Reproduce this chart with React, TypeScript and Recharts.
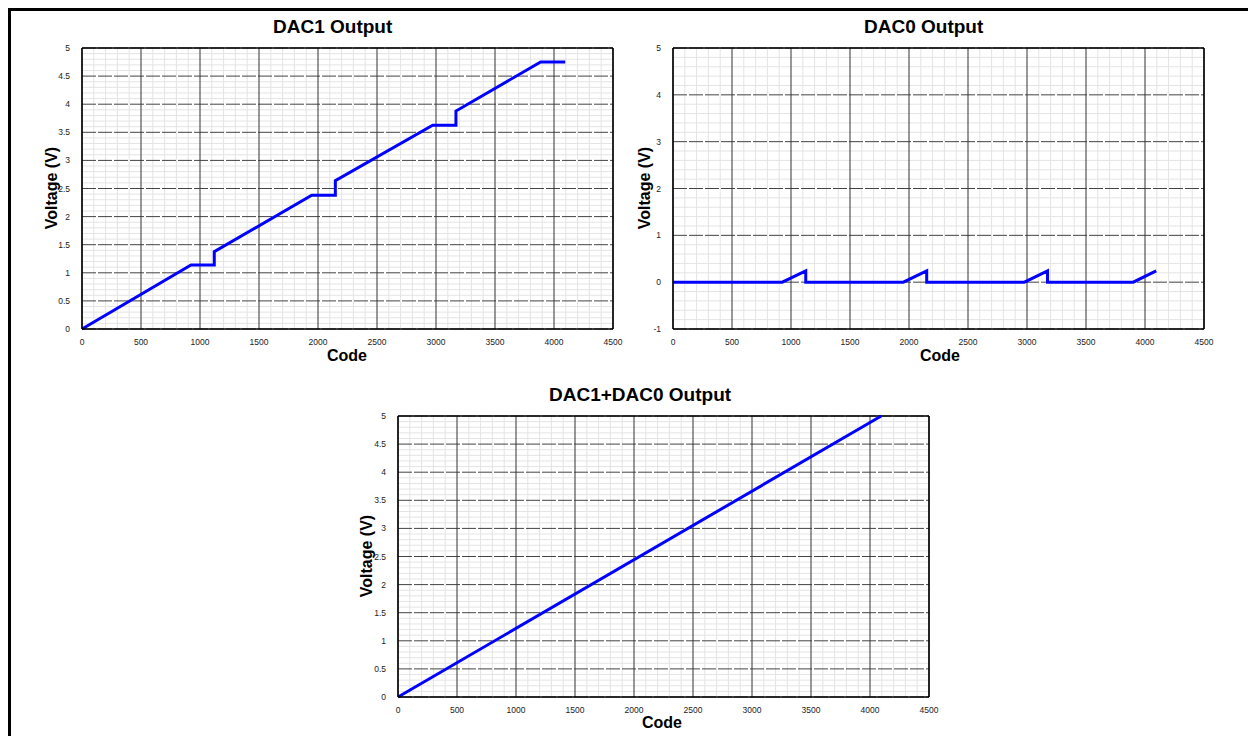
import { LineChart, Line, XAxis, YAxis, CartesianGrid, ReferenceLine } from 'recharts';

// ---- data ----
const codeTicks = [0, 500, 1000, 1500, 2000, 2500, 3000, 3500, 4000, 4500];
const halfVoltTicks = [0, 0.5, 1, 1.5, 2, 2.5, 3, 3.5, 4, 4.5, 5];
const dac0VoltTicks = [-1, 0, 1, 2, 3, 4, 5];

const dac1Codes = [0, 924, 1121, 1121, 1947, 2147, 2147, 2972, 3169, 3169, 3887, 4095];
const dac1Volts = [0, 1.139, 1.139, 1.375, 2.379, 2.379, 2.639, 3.625, 3.625, 3.879, 4.751, 4.751];

const dac0Codes = [0, 926, 1125, 1125, 1952, 2150, 2150, 2978, 3174, 3174, 3900, 4095];
const dac0Volts = [0, 0, 0.243, 0, 0, 0.243, 0, 0, 0.243, 0, 0, 0.243];

const sumCodes = [0, 4095];
const sumVolts = [0, 5.0];

const FONT = 'Arial, "Liberation Sans", Helvetica, sans-serif';
const BLUE = '#0000ff';

const toPoints = (codes: number[], volts: number[]) =>
  codes.map((code, i) => ({ code, v: volts[i] }));

// minor grid positions (styling only)
const steps = (from: number, to: number, step: number, skip: number) => {
  const out: number[] = [];
  for (let i = 0; from + i * step <= to + 1e-9; i++) {
    const val = +(from + i * step).toFixed(4);
    if (Math.abs(val / skip - Math.round(val / skip)) > 1e-6) out.push(val);
  }
  return out;
};

interface PanelProps {
  left: number;
  top: number;
  width: number;
  data: { code: number; v: number }[];
  yTicks: number[];
  yDomain: [number, number];
  minorY: number[];
}

function Panel({ left, top, width, data, yTicks, yDomain, minorY }: PanelProps) {
  const minorX = steps(0, 4500, 100, 500);
  return (
    <div style={{ position: 'absolute', left, top }}>
      <LineChart
        width={width}
        height={369}
        data={data}
        margin={{ top: 48, right: width - 82 - 531, left: 0, bottom: 0 }}
      >
        <CartesianGrid
          stroke="#e4e4e4"
          strokeWidth={1}
          horizontalValues={minorY}
          verticalValues={minorX}
        />
        <CartesianGrid
          stroke="#444"
          strokeWidth={1}
          vertical={false}
          strokeDasharray="14 2"
          horizontalValues={yTicks}
        />
        <CartesianGrid stroke="#333" strokeWidth={1} horizontal={false} verticalValues={codeTicks} />
        <XAxis
          type="number"
          dataKey="code"
          domain={[0, 4500]}
          ticks={codeTicks}
          interval={0}
          height={40}
          tickLine={false}
          tickMargin={4}
          axisLine={{ stroke: '#000', strokeWidth: 1.5 }}
          tick={{ fontSize: 8.5, fill: '#222', fontFamily: FONT }}
        />
        <YAxis
          type="number"
          domain={yDomain}
          ticks={yTicks}
          interval={0}
          width={82}
          tickLine={false}
          tickMargin={6}
          axisLine={{ stroke: '#000', strokeWidth: 1.5 }}
          tick={{ fontSize: 8.5, fill: '#222', fontFamily: FONT }}
        />
        <ReferenceLine y={yDomain[1]} stroke="#000" strokeWidth={1.5} />
        <ReferenceLine x={4500} stroke="#000" strokeWidth={1.5} />
        <Line
          type="linear"
          dataKey="v"
          stroke={BLUE}
          strokeWidth={3}
          dot={false}
          isAnimationActive={false}
        />
      </LineChart>
    </div>
  );
}

const titleStyle = (left: number, top: number): React.CSSProperties => ({
  position: 'absolute',
  left,
  top,
  fontFamily: FONT,
  fontWeight: 'bold',
  fontSize: 19,
  lineHeight: 1,
  whiteSpace: 'nowrap',
  color: '#000',
});

const axisTitleStyle = (cx: number, cy: number, rotate: boolean): React.CSSProperties => ({
  position: 'absolute',
  left: cx,
  top: cy,
  transform: `translate(-50%, -50%)${rotate ? ' rotate(-90deg)' : ''}`,
  fontFamily: FONT,
  fontWeight: 'bold',
  fontSize: 16,
  lineHeight: 1,
  whiteSpace: 'nowrap',
  color: '#000',
});

export default function App() {
  const minorHalf = steps(0, 5, 0.1, 0.5);
  const minorDac0 = steps(-1, 5, 0.2, 1);
  return (
    <div
      style={{
        position: 'fixed',
        left: 0,
        top: 0,
        width: 1248,
        height: 736,
        overflow: 'hidden',
        background: '#fff',
      }}
    >
      <div
        style={{
          position: 'absolute',
          left: 8,
          top: 8,
          width: 1300,
          height: 800,
          border: '3px solid #000',
          boxSizing: 'border-box',
        }}
      />

      <Panel
        left={0}
        top={0}
        width={640}
        data={toPoints(dac1Codes, dac1Volts)}
        yTicks={halfVoltTicks}
        yDomain={[0, 5]}
        minorY={minorHalf}
      />
      <Panel
        left={591}
        top={0}
        width={643}
        data={toPoints(dac0Codes, dac0Volts)}
        yTicks={dac0VoltTicks}
        yDomain={[-1, 5]}
        minorY={minorDac0}
      />
      <Panel
        left={316}
        top={368}
        width={634}
        data={toPoints(sumCodes, sumVolts)}
        yTicks={halfVoltTicks}
        yDomain={[0, 5]}
        minorY={minorHalf}
      />

      <div style={titleStyle(273, 17)}>DAC1 Output</div>
      <div style={titleStyle(864, 17)}>DAC0 Output</div>
      <div style={titleStyle(549, 385)}>DAC1+DAC0 Output</div>

      <div style={axisTitleStyle(347, 356, false)}>Code</div>
      <div style={axisTitleStyle(940, 356, false)}>Code</div>
      <div style={axisTitleStyle(662, 723, false)}>Code</div>

      <div style={axisTitleStyle(52, 188, true)}>Voltage (V)</div>
      <div style={axisTitleStyle(645, 188, true)}>Voltage (V)</div>
      <div style={axisTitleStyle(367, 556, true)}>Voltage (V)</div>
    </div>
  );
}
